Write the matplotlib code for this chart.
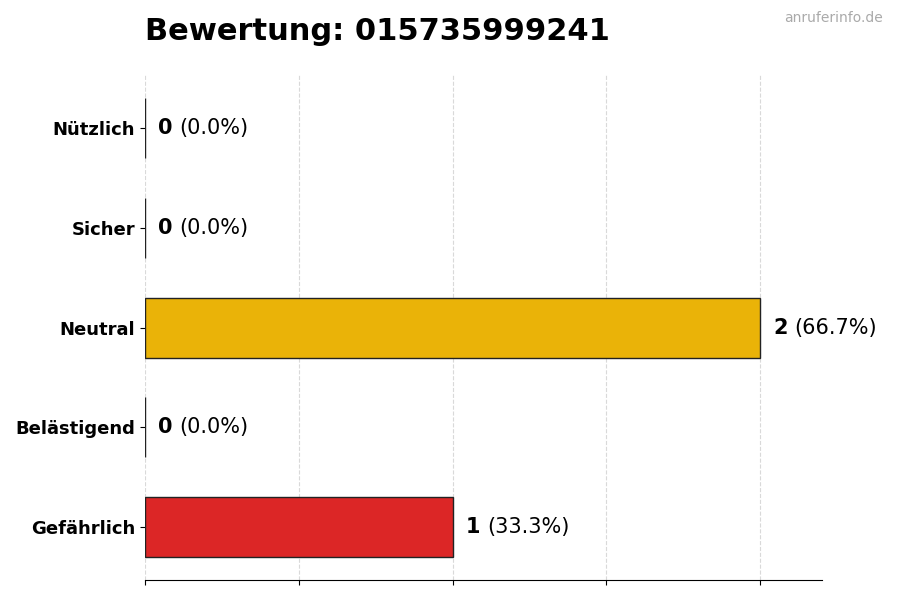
import matplotlib
matplotlib.use("Agg")
import matplotlib.pyplot as plt
from matplotlib.transforms import offset_copy

categories = ["Nützlich", "Sicher", "Neutral", "Belästigend", "Gefährlich"]
counts = [0, 0, 2, 0, 1]
colors = ["#16a34a", "#22c55e", "#eab308", "#f97316", "#dc2626"]
title = "Bewertung: 015735999241"

total = sum(counts)
ypos = list(range(len(categories)))[::-1]

fig = plt.figure(figsize=(9, 6), dpi=100)
ax = fig.add_axes([0.161, 0.033, 0.752, 0.842])

ax.barh(ypos, counts, height=0.6, color=colors, edgecolor="#222222", linewidth=1, zorder=3)
ax.set_yticks(ypos)
ax.set_yticklabels(categories, fontsize=13, fontweight="bold")
ax.set_xlim(0, 2.2)
ax.set_xticks([0, 0.5, 1, 1.5, 2])
ax.set_xticklabels([])
ax.grid(axis="x", linestyle="--", color="#d9d9d9", linewidth=0.8, zorder=0)
for s in ["top", "right", "left"]:
    ax.spines[s].set_visible(False)

fig.canvas.draw()
renderer = fig.canvas.get_renderer()
for y, c in zip(ypos, counts):
    pct = c / total * 100 if total else 0
    t = ax.text(c + 0.042, y, str(c), fontsize=15, fontweight="bold", va="center", ha="left")
    w = t.get_window_extent(renderer).width
    tr = offset_copy(ax.transData, fig=fig, x=w + 7, y=0, units="dots")
    ax.text(c + 0.042, y, f"({pct:.1f}%)", fontsize=15, va="center", ha="left", transform=tr)

fig.text(0.161, 0.947, title, fontsize=22, fontweight="bold", ha="left", va="center")
fig.text(0.981, 0.97, "anruferinfo.de", fontsize=10, color="#aaaaaa", ha="right", va="center")

fig.savefig("out.png", dpi=100)
